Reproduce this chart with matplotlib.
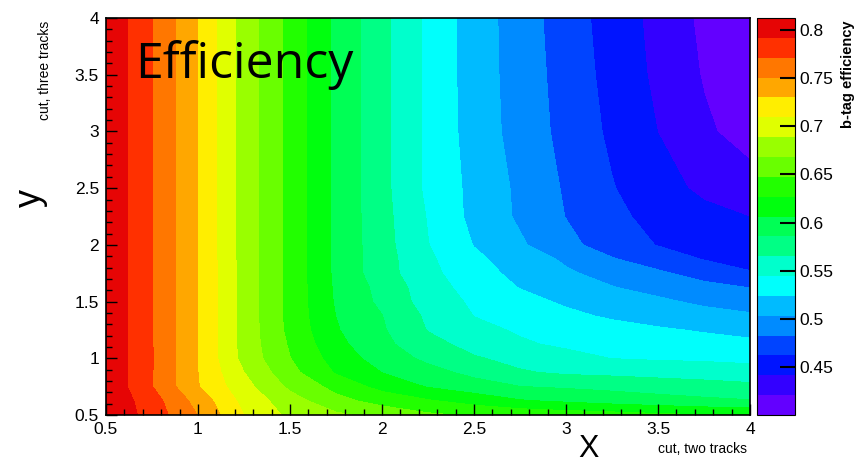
"""
b-tag efficiency as a function of the two-track and three-track cuts.
ROOT-style COLZ contour map redrawn with matplotlib.
"""

import colorsys

import matplotlib
matplotlib.use("Agg")
import matplotlib.pyplot as plt
import numpy as np
from matplotlib.colors import BoundaryNorm, ListedColormap
from matplotlib.ticker import MultipleLocator

# cut values (grid)
x_cut = [0.5, 0.75, 1.0, 1.25, 1.5, 1.75, 2.0, 2.25, 2.5, 2.75, 3.0, 3.25, 3.5, 3.75, 4.0]
y_cut = [0.5, 0.625, 0.75, 0.875, 1.0, 1.125, 1.25, 1.375, 1.5, 1.625, 1.75, 1.875,
         2.0, 2.25, 2.5, 3.0, 3.5, 4.0]

# efficiency, one list per y cut, along x_cut
eff_y0500 = [0.811, 0.783, 0.750, 0.709, 0.684, 0.672, 0.661, 0.651, 0.645, 0.642, 0.638, 0.635, 0.631, 0.628, 0.625]
eff_y0625 = [0.810, 0.780, 0.743, 0.703, 0.677, 0.654, 0.640, 0.629, 0.619, 0.608, 0.603, 0.598, 0.594, 0.590, 0.587]
eff_y0750 = [0.809, 0.772, 0.731, 0.696, 0.664, 0.641, 0.620, 0.605, 0.595, 0.586, 0.583, 0.580, 0.576, 0.573, 0.570]
eff_y0875 = [0.809, 0.772, 0.730, 0.689, 0.654, 0.625, 0.606, 0.593, 0.580, 0.567, 0.562, 0.560, 0.558, 0.556, 0.553]
eff_y1000 = [0.809, 0.773, 0.730, 0.682, 0.648, 0.618, 0.597, 0.581, 0.567, 0.559, 0.551, 0.544, 0.542, 0.541, 0.539]
eff_y1125 = [0.809, 0.772, 0.730, 0.681, 0.645, 0.612, 0.591, 0.572, 0.558, 0.547, 0.541, 0.536, 0.533, 0.531, 0.528]
eff_y1250 = [0.809, 0.772, 0.730, 0.681, 0.642, 0.608, 0.588, 0.564, 0.550, 0.542, 0.537, 0.531, 0.526, 0.522, 0.518]
eff_y1375 = [0.809, 0.772, 0.730, 0.681, 0.641, 0.606, 0.586, 0.561, 0.544, 0.536, 0.528, 0.521, 0.516, 0.511, 0.506]
eff_y1500 = [0.809, 0.772, 0.730, 0.681, 0.641, 0.604, 0.581, 0.556, 0.541, 0.530, 0.521, 0.514, 0.507, 0.499, 0.493]
eff_y1625 = [0.809, 0.772, 0.730, 0.681, 0.641, 0.603, 0.579, 0.554, 0.536, 0.523, 0.513, 0.504, 0.496, 0.489, 0.482]
eff_y1750 = [0.809, 0.772, 0.730, 0.681, 0.641, 0.602, 0.574, 0.550, 0.532, 0.518, 0.506, 0.496, 0.486, 0.474, 0.463]
eff_y1875 = [0.809, 0.772, 0.730, 0.680, 0.641, 0.602, 0.574, 0.548, 0.528, 0.514, 0.500, 0.484, 0.472, 0.461, 0.457]
eff_y2000 = [0.809, 0.772, 0.730, 0.680, 0.641, 0.602, 0.573, 0.545, 0.523, 0.506, 0.488, 0.473, 0.461, 0.456, 0.452]
eff_y2250 = [0.809, 0.772, 0.730, 0.680, 0.641, 0.602, 0.572, 0.543, 0.518, 0.500, 0.482, 0.467, 0.455, 0.447, 0.441]
eff_y2500 = [0.809, 0.772, 0.730, 0.680, 0.641, 0.602, 0.571, 0.540, 0.518, 0.499, 0.480, 0.463, 0.449, 0.437, 0.429]
eff_y3000 = [0.809, 0.772, 0.730, 0.680, 0.641, 0.602, 0.571, 0.540, 0.515, 0.495, 0.476, 0.458, 0.441, 0.424, 0.412]
eff_y3500 = [0.809, 0.772, 0.730, 0.680, 0.641, 0.602, 0.571, 0.540, 0.514, 0.494, 0.474, 0.455, 0.437, 0.419, 0.408]
eff_y4000 = [0.809, 0.772, 0.730, 0.680, 0.641, 0.602, 0.571, 0.540, 0.514, 0.493, 0.472, 0.453, 0.435, 0.416, 0.405]

z_min, z_max = 0.400, 0.8125
n_contours = 20
cbar_ticks = [0.45, 0.5, 0.55, 0.6, 0.65, 0.7, 0.75, 0.8]


def root_palette(ncont):
    # ROOT "pretty palette": 50 hues violet -> red, picked per contour like THistPainter
    cols = []
    for icol in range(ncont):
        k = int((icol + 0.99) * 50 / ncont)
        hue = max(280.0 - (k + 1) * 5.6, 0.0)
        cols.append(colorsys.hls_to_rgb(hue / 360.0, 0.5, 1.0))
    cols[-1] = (0.90, 0.02, 0.02)  # top band prints a bit darker in the original
    return cols


def main():
    eff = np.array([eff_y0500, eff_y0625, eff_y0750, eff_y0875, eff_y1000, eff_y1125,
                    eff_y1250, eff_y1375, eff_y1500, eff_y1625, eff_y1750, eff_y1875,
                    eff_y2000, eff_y2250, eff_y2500, eff_y3000, eff_y3500, eff_y4000])
    levels = np.linspace(z_min, z_max, n_contours + 1)
    cmap = ListedColormap(root_palette(n_contours))
    norm = BoundaryNorm(levels, cmap.N)

    plt.rcParams['font.family'] = ['Liberation Sans', 'DejaVu Sans']

    fig = plt.figure(figsize=(8.61, 4.66), dpi=100)
    ax = fig.add_axes([0.1231, 0.1094, 0.7480, 0.8519])
    cax = fig.add_axes([0.8792, 0.1094, 0.0441, 0.8519])

    cf = ax.contourf(x_cut, y_cut, eff, levels=levels, cmap=cmap, norm=norm,
                     antialiased=False)

    ax.set_xlim(0.5, 4.0)
    ax.set_ylim(0.5, 4.0)
    ax.xaxis.set_major_locator(MultipleLocator(0.5))
    ax.xaxis.set_minor_locator(MultipleLocator(0.1))
    ax.yaxis.set_major_locator(MultipleLocator(0.5))
    ax.yaxis.set_minor_locator(MultipleLocator(0.1))
    ax.xaxis.set_major_formatter(lambda v, p: f"{v:g}")
    ax.yaxis.set_major_formatter(lambda v, p: f"{v:g}")
    ax.tick_params(which='both', direction='in', colors='black', labelsize=12.5,
                   top=False, right=False, width=1.0)
    ax.tick_params(which='major', length=8, pad=5)
    ax.tick_params(which='minor', length=4)
    for sp in ax.spines.values():
        sp.set_linewidth(1.2)

    ax.text(0.045, 0.849, "Efficiency", transform=ax.transAxes,
            fontsize=36, family=['Open Sans', 'DejaVu Sans'],
            ha='left', va='baseline', color='black')

    cb = fig.colorbar(cf, cax=cax, ticks=cbar_ticks)
    cb.outline.set_linewidth(0.8)
    cax.yaxis.set_major_formatter(lambda v, p: f"{v:g}")
    cax.tick_params(direction='in', length=11, width=1.5, labelsize=12.5, pad=3)
    cax.minorticks_off()

    fig.text(0.985, 0.957, "b-tag efficiency", rotation=90, ha='center', va='top',
             fontsize=10.5, fontweight='bold')
    fig.text(0.035, 0.575, "y", rotation=90, ha='center', va='center', fontsize=26)
    fig.text(0.052, 0.955, "cut, three tracks", rotation=90, ha='center', va='top',
             fontsize=10)
    fig.text(0.683, 0.005, "X", ha='center', va='bottom', fontsize=22)
    fig.text(0.868, 0.022, "cut, two tracks", ha='right', va='bottom', fontsize=10)

    fig.savefig("out.png", dpi=100)


if __name__ == "__main__":
    main()
